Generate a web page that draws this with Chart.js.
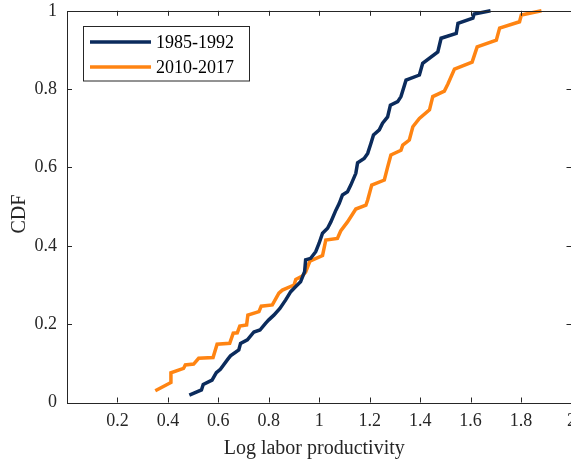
<!DOCTYPE html>
<html>
<head>
<meta charset="utf-8">
<script src="https://cdn.jsdelivr.net/npm/chart.js@4.4.0/dist/chart.umd.min.js"></script>
<style>
  html, body { margin: 0; padding: 0; overflow: hidden; background: #fff; }
  canvas { display: block; margin-top: -10px; }
</style>
</head>
<body>
<canvas id="grafica-cdf" width="584" height="471"></canvas>
<script>
// 1985-1992 (log labor productivity, CDF)
const x1985 = [0.485, 0.533, 0.540, 0.575, 0.592, 0.608, 0.637, 0.648, 0.681, 0.688, 0.715, 0.741, 0.765, 0.787,
  0.800, 0.820, 0.844, 0.867, 0.887, 0.907, 0.926, 0.942, 0.946, 0.966, 0.986, 0.999, 1.013, 1.033, 1.046, 1.066,
  1.079, 1.092, 1.112, 1.125, 1.145, 1.152, 1.178, 1.192, 1.205, 1.215, 1.238, 1.251, 1.271, 1.282, 1.311, 1.324,
  1.344, 1.397, 1.410, 1.470, 1.483, 1.543, 1.550, 1.609, 1.614, 1.679];
const cdf1985 = [0.019, 0.032, 0.046, 0.057, 0.076, 0.085, 0.110, 0.119, 0.134, 0.151, 0.160, 0.180, 0.185, 0.202,
  0.211, 0.223, 0.240, 0.262, 0.283, 0.296, 0.308, 0.334, 0.364, 0.368, 0.385, 0.406, 0.432, 0.445, 0.461, 0.491,
  0.508, 0.530, 0.538, 0.555, 0.585, 0.612, 0.623, 0.636, 0.662, 0.683, 0.696, 0.713, 0.729, 0.759, 0.768, 0.781,
  0.823, 0.836, 0.866, 0.895, 0.930, 0.942, 0.968, 0.981, 0.992, 1.0];

// 2010-2017
const x2010 = [0.350, 0.412, 0.412, 0.462, 0.469, 0.502, 0.522, 0.579, 0.595, 0.645, 0.659, 0.675, 0.685, 0.712,
  0.717, 0.761, 0.770, 0.814, 0.840, 0.854, 0.900, 0.907, 0.933, 0.946, 0.963, 1.013, 1.026, 1.072, 1.085, 1.112,
  1.145, 1.185, 1.192, 1.208, 1.258, 1.271, 1.284, 1.324, 1.331, 1.357, 1.371, 1.397, 1.437, 1.450, 1.496, 1.510,
  1.536, 1.606, 1.626, 1.702, 1.715, 1.794, 1.801, 1.881];
const cdf2010 = [0.030, 0.051, 0.076, 0.087, 0.096, 0.098, 0.113, 0.115, 0.149, 0.151, 0.177, 0.178, 0.195, 0.198,
  0.223, 0.232, 0.246, 0.249, 0.279, 0.287, 0.300, 0.314, 0.323, 0.333, 0.361, 0.375, 0.415, 0.419, 0.438, 0.461,
  0.494, 0.504, 0.517, 0.555, 0.568, 0.601, 0.632, 0.644, 0.657, 0.670, 0.704, 0.725, 0.747, 0.781, 0.795, 0.813,
  0.851, 0.869, 0.908, 0.925, 0.956, 0.972, 0.989, 1.0];

const seriesNames = ["1985-1992", "2010-2017"];
const xTickValues = [0.2, 0.4, 0.6, 0.8, 1, 1.2, 1.4, 1.6, 1.8, 2];
const yTickValues = [0, 0.2, 0.4, 0.6, 0.8, 1];

const colorAzul = "#0b2b5c";
const colorNaranja = "#ff8412";
const colorEjes = "#262626";
const fuente = "'Liberation Serif', 'Times New Roman', serif";

function puntos(xs, ys) {
  return xs.map((x, i) => ({ x: x, y: ys[i] }));
}

// box + inward ticks on all four sides (matlab style)
const cajaEjes = {
  id: "cajaEjes",
  afterDatasetsDraw(chart) {
    const { ctx, chartArea: a, scales } = chart;
    const tl = 5;
    ctx.save();
    ctx.strokeStyle = colorEjes;
    ctx.lineWidth = 1;
    ctx.beginPath();
    ctx.rect(Math.round(a.left) + 0.5, Math.round(a.top) + 0.5,
      Math.round(a.right - a.left) - 1, Math.round(a.bottom - a.top));
    scales.x.ticks.forEach(t => {
      const px = Math.round(scales.x.getPixelForValue(t.value)) + 0.5;
      ctx.moveTo(px, a.bottom); ctx.lineTo(px, a.bottom - tl);
      ctx.moveTo(px, a.top); ctx.lineTo(px, a.top + tl);
    });
    scales.y.ticks.forEach(t => {
      const py = Math.round(scales.y.getPixelForValue(t.value)) + 0.5;
      ctx.moveTo(a.left, py); ctx.lineTo(a.left + tl, py);
      ctx.moveTo(a.right, py); ctx.lineTo(a.right - tl, py);
    });
    ctx.stroke();
    ctx.restore();
  },
  afterDraw(chart) {
    // legend box, top-left inside the axes (canvas is shifted up 10px)
    const { ctx } = chart;
    const bx = 83.5, by = 36.5, bw = 166, bh = 54.5;
    ctx.save();
    ctx.fillStyle = "#fff";
    ctx.fillRect(bx, by, bw, bh);
    ctx.strokeStyle = colorEjes;
    ctx.lineWidth = 1;
    ctx.strokeRect(bx, by, bw, bh);
    ctx.font = "18px " + fuente;
    ctx.textBaseline = "middle";
    chart.data.datasets.forEach((ds, i) => {
      const y = 52 + i * 25;
      ctx.strokeStyle = ds.borderColor;
      ctx.lineWidth = 3.5;
      ctx.beginPath();
      ctx.moveTo(90, y);
      ctx.lineTo(151, y);
      ctx.stroke();
      ctx.fillStyle = "#000";
      ctx.fillText(ds.label, 156, y + 1);
    });
    ctx.restore();
  }
};

const ctx = document.getElementById("grafica-cdf").getContext("2d");
const chart = new Chart(ctx, {
  type: "scatter",
  data: {
    datasets: [
      {
        label: seriesNames[0],
        data: puntos(x1985, cdf1985),
        borderColor: colorAzul,
        backgroundColor: colorAzul,
        borderWidth: 3.5,
        showLine: true,
        pointRadius: 0,
        borderJoinStyle: "miter",
        clip: false
      },
      {
        label: seriesNames[1],
        data: puntos(x2010, cdf2010),
        borderColor: colorNaranja,
        backgroundColor: colorNaranja,
        borderWidth: 3.5,
        showLine: true,
        pointRadius: 0,
        borderJoinStyle: "miter",
        clip: false
      }
    ]
  },
  options: {
    responsive: false,
    animation: false,
    layout: { padding: 0 },
    plugins: {
      legend: { display: false },
      tooltip: { enabled: false }
    },
    scales: {
      x: {
        type: "linear",
        min: 0,
        max: 2,
        afterBuildTicks: s => { s.ticks = xTickValues.map(v => ({ value: v })); },
        afterFit: s => { s.height = 58.5; },
        grid: { display: false, drawTicks: false },
        border: { display: false },
        ticks: {
          color: colorEjes,
          padding: 8,
          maxRotation: 0,
          autoSkip: false,
          font: { family: fuente, size: 18, lineHeight: 1.2 },
          callback: v => String(v)
        },
        title: {
          display: true,
          // trailing spaces nudge the centred label a little to the left
          text: "Log labor productivity  ",
          color: colorEjes,
          padding: { top: 0, bottom: 0 },
          font: { family: fuente, size: 20, lineHeight: 1.2 }
        }
      },
      y: {
        type: "linear",
        min: 0,
        max: 1,
        afterBuildTicks: s => { s.ticks = yTickValues.map(v => ({ value: v })); },
        afterFit: s => { s.width = 67; },
        grid: { display: false, drawTicks: false },
        border: { display: false },
        ticks: {
          color: colorEjes,
          padding: 10,
          autoSkip: false,
          font: { family: fuente, size: 18, lineHeight: 1.2 },
          callback: v => String(v)
        },
        title: {
          display: true,
          text: "CDF   ",
          color: colorEjes,
          padding: { top: 8, bottom: 0 },
          font: { family: fuente, size: 20, lineHeight: 1.2 }
        }
      }
    }
  },
  plugins: [cajaEjes]
});
</script>
</body>
</html>
